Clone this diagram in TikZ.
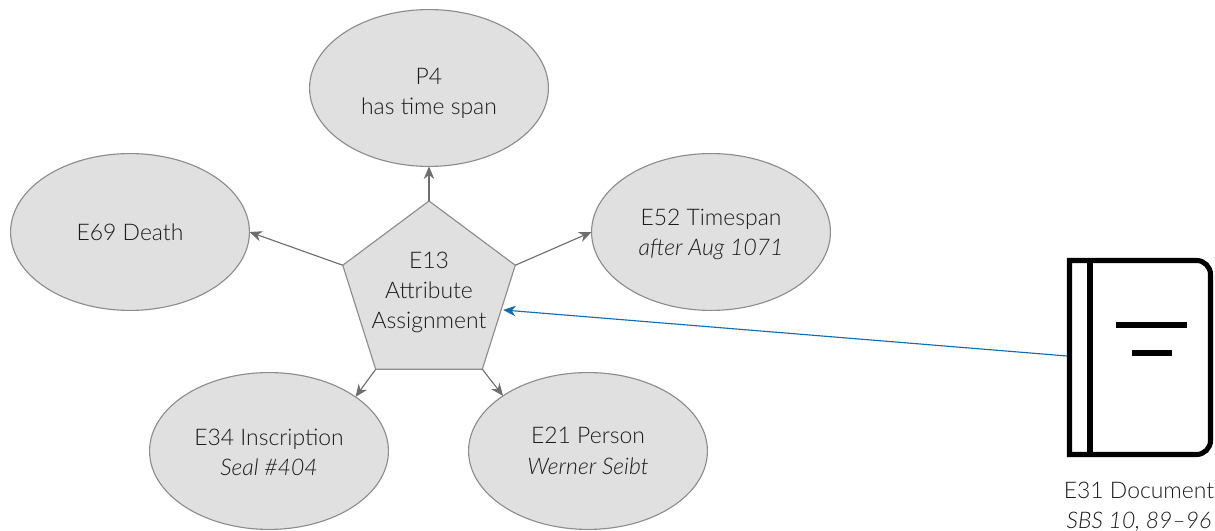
\documentclass[tikz,border=0pt]{standalone}
\usepackage{fontspec}
\setmainfont{Lato Light}[ItalicFont={Lato Light Italic}]
\usetikzlibrary{shapes.geometric,arrows.meta,calc}
\definecolor{fillgray}{HTML}{E0E0E0}
\definecolor{linegray}{HTML}{8C8C8C}
\definecolor{arrowgray}{HTML}{6E6E6E}
\definecolor{linkblue}{HTML}{0F6CB0}
\definecolor{textgray}{HTML}{1A1A1A}
\tikzset{
	labeltext/.style={align=center,text=textgray,font=\fontsize{16.3}{21.5}\selectfont},
	nudge/.style={execute at begin node={\rule{0pt}{#1}}},
	classnode/.style={ellipse,draw=linegray,fill=fillgray,line width=0.8pt,minimum width=5.97cm,minimum height=3.92cm,inner sep=0pt,outer sep=0pt,labeltext},
	relarrow/.style={-{Stealth[length=9pt,width=7.5pt]},draw=arrowgray,line width=0.8pt},
}
\begin{document}
\begin{tikzpicture}[x=0.025cm,y=0.025cm,line join=round]
	\useasboundingbox (0,0) rectangle (1215,531);
	\node[classnode,nudge=40.6pt] (timespan) at (429,443) {P4\\has time span};
	\node[classnode] (death) at (130,299) {E69 Death};
	\node[classnode,nudge=37pt] (period) at (711,299) {E52 Timespan\\\textit{after Aug 1071}};
	\node[classnode,nudge=35.6pt] (inscription) at (269,80) {E34 Inscription\\\textit{Seal \#404}};
	\node[classnode] (person) at (588,80) {E21 Person\\\textit{Werner Seibt}};
	\node[classnode,shape=regular polygon,regular polygon sides=5,minimum size=4.65cm,xscale=0.975] (assign) at (429,237) {};
	\node[labeltext] (assignlabel) at (429,238.5) {E13\\Attribute\\Assignment};
	\draw[relarrow] (assign.corner 1) -- (timespan.south);
	\draw[relarrow] (assign.corner 2) -- (death.east);
	\draw[relarrow] (assign.corner 5) -- (period.west);
	\draw[relarrow] (assign.corner 3) -- (inscription.32);
	\draw[relarrow] (assign.corner 4) -- (person.147);
	% book
	\draw[line width=3.6pt,line join=miter] (1140,76.5) -- (1069.5,76.5) -- (1069.5,270.5) -- (1196.5,270.5) arc[start angle=90,end angle=0,radius=14] -- (1210.5,90.5) arc[start angle=0,end angle=-90,radius=14] -- cycle;
	\draw[line width=3.6pt] (1090,76.5) -- (1090,270.5);
	\draw[line width=3.6pt] (1116,206) -- (1187,206);
	\draw[line width=3.6pt] (1132,178) -- (1172,178);
	\coordinate (bookedge) at (1067,175);
	\coordinate (assignedge) at ($(assign.corner 5)!0.43!(assign.corner 4)+(2,0)$);
	\node[labeltext] (bookdoc) at (1139,24.5) {E31 Document\\\textit{SBS 10, 89–96}};
	\draw[-{Stealth[length=9pt,width=7.5pt]},linkblue,line width=0.8pt] (bookedge) -- (assignedge);
\end{tikzpicture}
\end{document}
